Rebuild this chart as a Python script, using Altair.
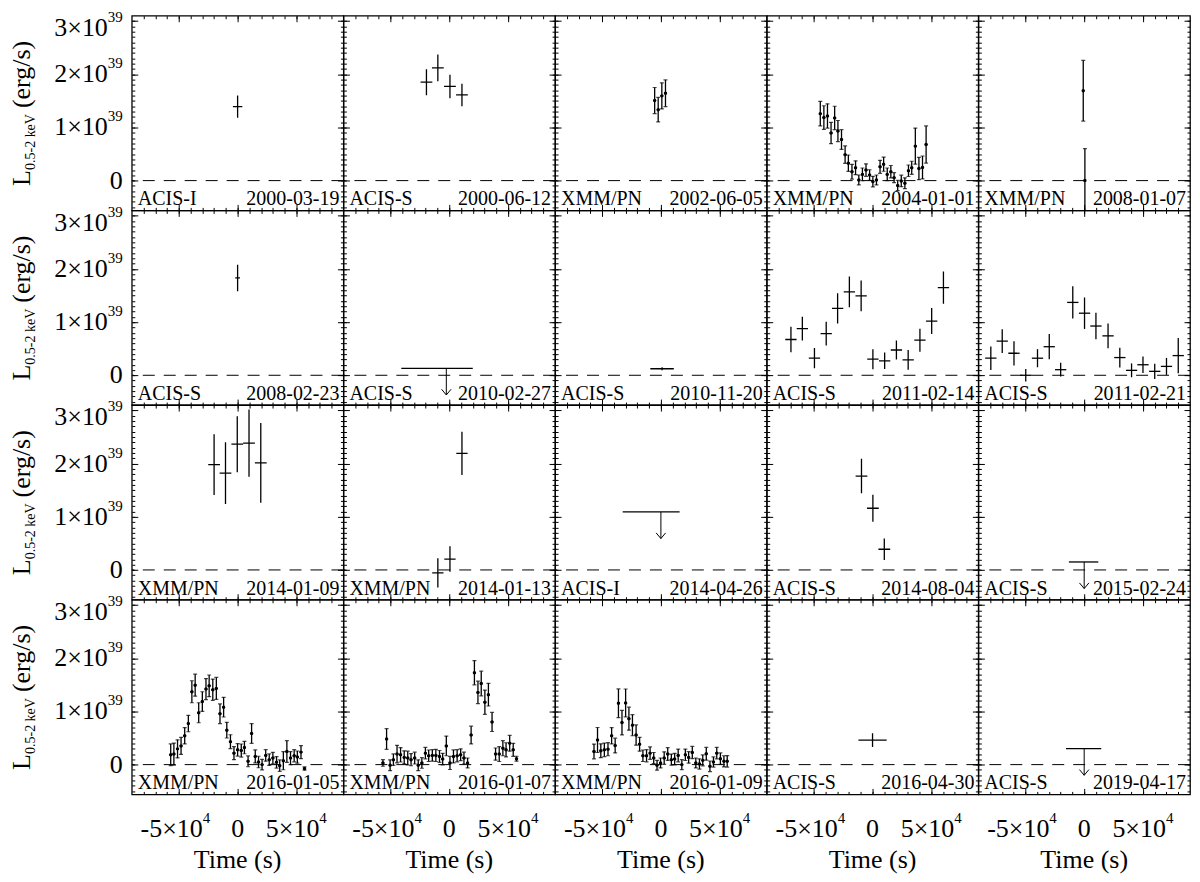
import altair as alt
import pandas as pd

FONT = "Liberation Serif"
T_UNIT = 1e4      # time values below are in units of 1e4 s
L_UNIT = 1e39     # luminosities below are in units of 1e39 erg/s

INSTRUMENTS = ["ACIS-I", "ACIS-S", "XMM/PN", "XMM/PN", "XMM/PN",
               "ACIS-S", "ACIS-S", "ACIS-S", "ACIS-S", "ACIS-S",
               "XMM/PN", "XMM/PN", "ACIS-I", "ACIS-S", "ACIS-S",
               "XMM/PN", "XMM/PN", "XMM/PN", "ACIS-S", "ACIS-S"]
DATES = ["2000-03-19", "2000-06-12", "2002-06-05", "2004-01-01", "2008-01-07",
         "2008-02-23", "2010-02-27", "2010-11-20", "2011-02-14", "2011-02-21",
         "2014-01-09", "2014-01-13", "2014-04-26", "2014-08-04", "2015-02-24",
         "2016-01-05", "2016-01-07", "2016-01-09", "2016-04-30", "2019-04-17"]

# ---- detections: time, half bin width, luminosity, error ----
p01_t = [0.0]; p01_te = [0.4]; p01_l = [1.39]; p01_le = [0.21]
p02_t = [-1.94, -0.97, 0.06, 1.08]; p02_te = [0.5, 0.5, 0.5, 0.5]
p02_l = [1.85, 2.12, 1.77, 1.61]; p02_le = [0.245, 0.25, 0.22, 0.21]
p03_t = [-0.53, -0.23, 0.08, 0.39]; p03_te = [0.12, 0.12, 0.12, 0.12]
p03_l = [1.505, 1.333, 1.593, 1.642]; p03_le = [0.245, 0.23, 0.245, 0.25]
p04_t = [-4.444, -4.139, -3.833, -3.528, -3.222, -2.944, -2.639, -2.333, -2.056, -1.75, -1.444,
         -1.167, -0.861, -0.556, -0.25, 0.028, 0.333, 0.639, 0.944, 1.25, 1.556, 1.833, 2.139,
         2.444, 2.75, 3.056, 3.333, 3.639, 3.944, 4.25, 4.556]
p04_te = [0.12] * 31
p04_l = [1.259, 1.185, 1.216, 0.895, 1.179, 0.932, 0.772, 0.488, 0.327, 0.167, 0.241, 0.012,
         0.117, 0.198, 0.105, -0.019, 0.012, 0.259, 0.309, 0.117, 0.167, 0.056, -0.093, -0.006,
         -0.049, 0.185, 0.241, 0.648, 0.228, 0.247, 0.679]
p04_le = [0.231, 0.222, 0.228, 0.2, 0.219, 0.198, 0.185, 0.164, 0.154, 0.139, 0.13, 0.093,
          0.12, 0.117, 0.099, 0.099, 0.093, 0.123, 0.133, 0.12, 0.117, 0.093, 0.096, 0.108,
          0.102, 0.108, 0.123, 0.34, 0.21, 0.216, 0.349]
p05_t = [-0.08, 0.06]; p05_te = [0.1, 0.1]; p05_l = [1.69, 0.0]; p05_le = [0.57, 0.6]
p06_t = [0.0]; p06_te = [0.2]; p06_l = [1.83]; p06_le = [0.25]
p08_t = [0.1]; p08_te = [1.0]; p08_l = [0.123]; p08_le = [0.03]
p09_t = [-6.94, -5.97, -4.94, -3.94, -2.97, -1.97, -0.97, 0.03, 1.03, 2.03, 3.03, 4.03, 5.03, 6.03]
p09_te = [0.48] * 14
p09_l = [0.673, 0.877, 0.321, 0.784, 1.259, 1.568, 1.494, 0.302, 0.272, 0.475, 0.29, 0.66, 1.019, 1.648]
p09_le = [0.238, 0.225, 0.191, 0.222, 0.284, 0.287, 0.29, 0.188, 0.154, 0.179, 0.185, 0.216, 0.244, 0.302]
p10_t = [-7.94, -6.97, -5.97, -4.97, -3.97, -2.97, -2.0, -0.97, 0.03, 1.0, 2.03, 3.03, 4.03, 5.0,
         6.0, 7.0, 8.0]
p10_te = [0.48] * 17
p10_l = [0.321, 0.642, 0.414, 0.0, 0.321, 0.537, 0.105, 1.37, 1.167, 0.926, 0.741, 0.333, 0.093,
         0.198, 0.074, 0.167, 0.37]
p10_le = [0.222, 0.222, 0.228, 0.117, 0.17, 0.238, 0.13, 0.302, 0.296, 0.25, 0.231, 0.185, 0.13,
          0.154, 0.145, 0.16, 0.333]
p11_t = [-2.0, -1.03, -0.03, 0.97, 1.97]; p11_te = [0.5] * 5
p11_l = [1.981, 1.821, 2.364, 2.383, 2.012]; p11_le = [0.571, 0.58, 0.525, 0.633, 0.75]
p12_t = [-0.97, 0.06, 1.08]; p12_te = [0.48] * 3
p12_l = [-0.056, 0.204, 2.19]; p12_le = [0.275, 0.24, 0.407]
p14_t = [-0.94, 0.03, 1.0]; p14_te = [0.5] * 3
p14_l = [1.765, 1.16, 0.389]; p14_le = [0.324, 0.253, 0.2]
p16_t = [-5.69, -5.42, -5.11, -4.81, -4.5, -4.19, -3.89, -3.61, -3.31, -3.0, -2.69, -2.42, -2.11,
         -1.81, -1.5, -1.19, -0.92, -0.61, -0.31, 0.0, 0.31, 0.58, 0.89, 1.19, 1.5, 1.78, 2.08,
         2.39, 2.69, 3.0, 3.31, 3.58, 3.89, 4.19, 4.5, 4.81, 5.08, 5.39, 5.69]
p16_te = [0.12] * 39
p16_l = [0.185, 0.198, 0.296, 0.352, 0.543, 0.772, 1.37, 1.494, 0.975, 1.185, 1.42, 1.481, 1.407,
         1.432, 0.957, 1.08, 0.648, 0.432, 0.216, 0.278, 0.265, 0.321, 0.062, 0.586, 0.154, 0.049,
         0.0, 0.173, 0.093, 0.123, 0.043, -0.019, 0.074, 0.247, 0.123, 0.167, 0.142, 0.235, -0.074]
p16_le = [0.204, 0.207, 0.17, 0.161, 0.154, 0.154, 0.207, 0.207, 0.188, 0.185, 0.198, 0.204, 0.201,
          0.207, 0.185, 0.185, 0.148, 0.13, 0.123, 0.117, 0.123, 0.117, 0.102, 0.185, 0.123, 0.108,
          0.099, 0.108, 0.108, 0.108, 0.108, 0.108, 0.17, 0.204, 0.123, 0.114, 0.114, 0.123, 0.031]
p17_t = [-5.64, -5.33, -5.03, -4.75, -4.44, -4.14, -3.83, -3.53, -3.25, -2.94, -2.64, -2.33, -2.03,
         -1.75, -1.44, -1.14, -0.83, -0.56, -0.25, 0.06, 0.36, 0.67, 0.97, 1.25, 1.56, 1.86, 2.14,
         2.44, 2.72, 3.03, 3.33, 3.64, 3.94, 4.25, 4.56, 4.83, 5.14, 5.44, 5.72]
p17_te = [0.12] * 39
p17_l = [0.031, 0.481, -0.012, 0.093, 0.198, 0.185, 0.136, 0.123, 0.093, 0.123, -0.012, 0.031,
         0.216, 0.167, 0.173, 0.173, 0.154, 0.105, 0.352, 0.031, 0.154, 0.167, 0.185, 0.123, 0.031,
         0.556, 1.728, 1.358, 1.525, 1.173, 1.315, 0.802, 0.198, 0.198, 0.309, 0.278, 0.401, 0.278,
         0.111]
p17_le = [0.062, 0.194, 0.102, 0.108, 0.164, 0.136, 0.123, 0.13, 0.114, 0.111, 0.102, 0.099, 0.108,
          0.108, 0.108, 0.114, 0.111, 0.108, 0.185, 0.123, 0.123, 0.114, 0.111, 0.111, 0.093, 0.167,
          0.228, 0.21, 0.231, 0.228, 0.213, 0.179, 0.114, 0.139, 0.142, 0.133, 0.148, 0.123, 0.046]
p18_t = [-5.69, -5.39, -5.11, -4.81, -4.5, -4.19, -3.89, -3.61, -3.31, -3.0, -2.72, -2.42, -2.11,
         -1.81, -1.53, -1.22, -0.92, -0.61, -0.33, -0.03, 0.28, 0.58, 0.89, 1.17, 1.47, 1.78, 2.08,
         2.36, 2.67, 2.97, 3.28, 3.56, 3.86, 4.17, 4.47, 4.75, 5.06, 5.36, 5.64]
p18_te = [0.12] * 39
p18_l = [0.247, 0.463, 0.26, 0.278, 0.29, 0.543, 0.358, 1.154, 0.79, 1.16, 0.864, 0.741, 0.556,
         0.383, 0.167, 0.167, 0.216, 0.123, -0.012, 0.031, 0.123, 0.198, 0.093, 0.105, 0.173, 0.0,
         0.185, 0.136, 0.228, 0.031, 0.012, 0.08, 0.204, -0.031, 0.049, 0.216, 0.111, 0.062, 0.062]
p18_le = [0.139, 0.235, 0.13, 0.127, 0.123, 0.154, 0.139, 0.269, 0.231, 0.262, 0.216, 0.198, 0.191,
          0.13, 0.108, 0.114, 0.117, 0.105, 0.093, 0.093, 0.117, 0.12, 0.105, 0.108, 0.12, 0.093,
          0.108, 0.108, 0.114, 0.093, 0.096, 0.102, 0.12, 0.099, 0.096, 0.108, 0.108, 0.105, 0.108]
p19_t = [0.0]; p19_te = [1.2]; p19_l = [0.46]; p19_le = [0.13]

DETECTIONS = {
    0: (p01_t, p01_te, p01_l, p01_le), 1: (p02_t, p02_te, p02_l, p02_le),
    2: (p03_t, p03_te, p03_l, p03_le), 3: (p04_t, p04_te, p04_l, p04_le),
    4: (p05_t, p05_te, p05_l, p05_le), 5: (p06_t, p06_te, p06_l, p06_le),
    7: (p08_t, p08_te, p08_l, p08_le), 8: (p09_t, p09_te, p09_l, p09_le),
    9: (p10_t, p10_te, p10_l, p10_le), 10: (p11_t, p11_te, p11_l, p11_le),
    11: (p12_t, p12_te, p12_l, p12_le), 13: (p14_t, p14_te, p14_l, p14_le),
    15: (p16_t, p16_te, p16_l, p16_le), 16: (p17_t, p17_te, p17_l, p17_le),
    17: (p18_t, p18_te, p18_l, p18_le), 18: (p19_t, p19_te, p19_l, p19_le),
}
CAPPED = [2, 3, 4, 15, 16, 17]   # binned XMM light curves with dots and caps

# ---- upper limits ----
ul_panel = [6, 12, 14, 19]
ul_t = [-1.04, -0.83, -0.05, -0.05]
ul_te = [3.04, 2.42, 1.25, 1.5]
ul_l = [0.13, 1.09, 0.15, 0.3]
ul_arrow_t = [-0.25, 0.0, 0.0, 0.0]
ARROW_LEN = 0.5  # 1e39

W, H = 212, 195
XS = alt.Scale(domain=[-9e4, 9e4], nice=False, zero=False)
YS = alt.Scale(domain=[-0.56e39, 3.1e39], nice=False, zero=False)
X_MAJOR = [-5e4, 0, 5e4]
X_MINOR = [k * 1e4 for k in range(-8, 9)]
Y_MAJOR = [0, 1e39, 2e39, 3e39]
Y_MINOR = [k * 1e38 for k in range(-5, 31)]

anchor = pd.DataFrame({"t": [0.0], "l": [0.0]})


def axis_layer(xo, yo, xv, yv, size):
    common = dict(tickSize=size, offset=-size, labels=False, domain=False, grid=False,
                  title=None, tickColor="black", tickWidth=1)
    return alt.Chart(anchor).mark_point(opacity=0).encode(
        x=alt.X("t:Q", scale=XS, axis=alt.Axis(orient=xo, values=xv, **common)),
        y=alt.Y("l:Q", scale=YS, axis=alt.Axis(orient=yo, values=yv, **common)),
    )


def X(f):
    return alt.X(f, scale=XS, axis=None)


def Y(f):
    return alt.Y(f, scale=YS, axis=None)


def text_layer(df, text, x, y, **kw):
    return alt.Chart(df).mark_text(font=FONT, color="black", **kw).encode(text=text, x=x, y=y)


def panel(i):
    row, col = divmod(i, 5)
    layers = [
        axis_layer("bottom", "left", X_MAJOR, Y_MAJOR, 6),
        axis_layer("bottom", "left", X_MINOR, Y_MINOR, 3),
        axis_layer("top", "right", X_MAJOR, Y_MAJOR, 6),
        axis_layer("top", "right", X_MINOR, Y_MINOR, 3),
        alt.Chart(anchor).mark_rule(strokeDash=[12, 9], color="black", strokeWidth=1).encode(y=Y("l:Q")),
    ]
    if i in DETECTIONS:
        t, te, lum, le = DETECTIONS[i]
        df = pd.DataFrame({
            "t": [v * T_UNIT for v in t],
            "t0": [(a - b) * T_UNIT for a, b in zip(t, te)],
            "t1": [(a + b) * T_UNIT for a, b in zip(t, te)],
            "l": [v * L_UNIT for v in lum],
            "l0": [(a - b) * L_UNIT for a, b in zip(lum, le)],
            "l1": [(a + b) * L_UNIT for a, b in zip(lum, le)],
        })
        base = alt.Chart(df)
        layers.append(base.mark_rule(color="black", strokeWidth=1.3, clip=True).encode(
            x=X("t:Q"), y=Y("l0:Q"), y2="l1:Q"))
        layers.append(base.mark_rule(color="black", strokeWidth=1.3, clip=True).encode(
            x=X("t0:Q"), x2="t1:Q", y=Y("l:Q")))
        if i in CAPPED:
            layers.append(base.transform_fold(["l0", "l1"], as_=["k", "v"]).mark_tick(
                orient="horizontal", size=4, thickness=1.2, color="black", clip=True).encode(
                x=X("t:Q"), y=Y("v:Q")))
            layers.append(base.mark_circle(size=12, color="black", opacity=1, clip=True).encode(
                x=X("t:Q"), y=Y("l:Q")))
    if i in ul_panel:
        k = ul_panel.index(i)
        udf = pd.DataFrame({
            "t0": [(ul_t[k] - ul_te[k]) * T_UNIT], "t1": [(ul_t[k] + ul_te[k]) * T_UNIT],
            "ta": [ul_arrow_t[k] * T_UNIT], "l": [ul_l[k] * L_UNIT],
            "tip": [(ul_l[k] - ARROW_LEN) * L_UNIT],
        })
        ub = alt.Chart(udf)
        layers.append(ub.mark_rule(color="black", strokeWidth=1.3).encode(x=X("t0:Q"), x2="t1:Q", y=Y("l:Q")))
        layers.append(ub.mark_rule(color="black", strokeWidth=1).encode(x=X("ta:Q"), y=Y("l:Q"), y2="tip:Q"))
        layers.append(ub.mark_point(shape="M -1 -1.2 L 0 0 L 1 -1.2", filled=False, size=90,
                                    color="black", strokeWidth=1, opacity=1).encode(
            x=X("ta:Q"), y=Y("tip:Q")))
    lab = pd.DataFrame({"inst": [INSTRUMENTS[i]], "date": [DATES[i]]})
    layers.append(text_layer(lab, "inst:N", alt.value(6), alt.value(H - 5), align="left",
                             baseline="alphabetic", fontSize=20))
    layers.append(text_layer(lab, "date:N", alt.value(W - 4), alt.value(H - 5), align="right",
                             baseline="alphabetic", fontSize=20))
    if col == 0:
        yl = pd.DataFrame({"v": Y_MAJOR, "base": ["0", "1×10", "2×10", "3×10"], "sup": ["", "39", "39", "39"]})
        zero = yl[yl.v == 0]
        mid = yl[(yl.v > 0) & (yl.v < 3e39)]
        top = yl[yl.v == 3e39]
        layers.append(text_layer(zero, "base:N", alt.value(-9), Y("v:Q"), align="right",
                                 baseline="middle", fontSize=26))
        for part, shift in ((mid, 0), (top, 7)):
            layers.append(text_layer(part, "base:N", alt.value(-24), Y("v:Q"), align="right",
                                     baseline="middle", fontSize=26, dy=shift))
            layers.append(text_layer(part, "sup:N", alt.value(-24), Y("v:Q"), align="left",
                                     baseline="middle", fontSize=15, dy=shift - 11))
        tl = pd.DataFrame({"a": ["L"], "b": ["0.5-2 keV"], "c": ["(erg/s)"]})
        ymid = H / 2
        layers.append(text_layer(tl, "a:N", alt.value(-102), alt.value(ymid + 73), angle=270,
                                 align="left", baseline="alphabetic", fontSize=26))
        layers.append(text_layer(tl, "b:N", alt.value(-97), alt.value(ymid + 57), angle=270,
                                 align="left", baseline="alphabetic", fontSize=14))
        layers.append(text_layer(tl, "c:N", alt.value(-102), alt.value(ymid - 5), angle=270,
                                 align="left", baseline="alphabetic", fontSize=26))
    if row == 3:
        xl = pd.DataFrame({"v": X_MAJOR, "base": ["-5×10", "0", "5×10"], "sup": ["4", "", "4"]})
        neg = xl[xl.v < 0]
        zer = xl[xl.v == 0]
        pos = xl[xl.v > 0]
        ty = alt.value(H + 35)
        layers.append(text_layer(zer, "base:N", X("v:Q"), ty, align="center", baseline="middle", fontSize=26))
        for part, off in ((neg, 24), (pos, 23)):
            layers.append(text_layer(part, "base:N", X("v:Q"), ty, align="right", baseline="middle",
                                     fontSize=26, dx=off))
            layers.append(text_layer(part, "sup:N", X("v:Q"), ty, align="left", baseline="middle",
                                     fontSize=15, dx=off, dy=-11))
        tt = pd.DataFrame({"s": ["Time (s)"]})
        layers.append(text_layer(tt, "s:N", alt.value(W / 2), alt.value(H + 66), align="center",
                                 baseline="middle", fontSize=26))
    return alt.layer(*layers).resolve_axis(x="independent", y="independent").properties(width=W, height=H)


chart = alt.concat(*[panel(i) for i in range(20)], columns=5, spacing=0, bounds="flush").properties(
    padding=0
).configure_view(stroke="black", strokeWidth=1.3)

chart.save("out.html", embed_options={"renderer": "svg", "actions": False})
